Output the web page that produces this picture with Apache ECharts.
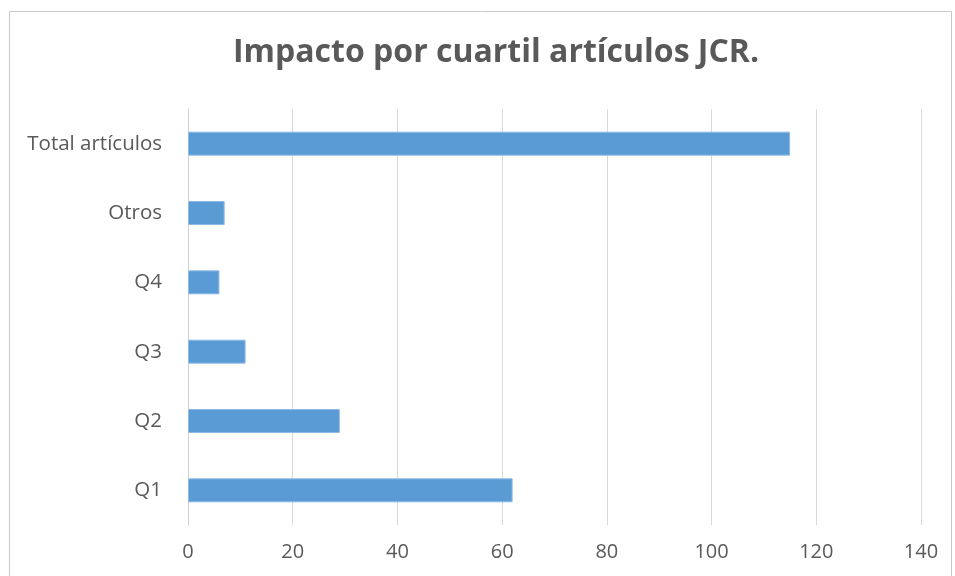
<!DOCTYPE html>
<html>
<head>
<meta charset="utf-8">
<script src="https://cdn.jsdelivr.net/npm/echarts@6/dist/echarts.min.js"></script>
<style>
html,body{margin:0;padding:0;background:#fff;}
#chart{width:955px;height:576px;}
</style>
</head>
<body>
<div id="chart"></div>
<script>
const titleText = "Impacto por cuartil artículos JCR.";
const categories = ["Q1", "Q2", "Q3", "Q4", "Otros", "Total artículos"];
const values = [62, 29, 11, 6, 7, 115];
const xTicks = [0, 20, 40, 60, 80, 100, 120, 140];

const chart = echarts.init(document.getElementById('chart'), null, {renderer: 'canvas'});
chart.setOption({
  backgroundColor: '#ffffff',
  animation: false,
  graphic: [{
    type: 'rect',
    shape: {x: 9.5, y: 11.5, width: 942, height: 600},
    style: {fill: 'none', stroke: '#c8c8c8', lineWidth: 1},
    silent: true
  }],
  title: {
    text: titleText,
    left: 233,
    top: 37,
    padding: 0,
    textStyle: {fontFamily: 'Open Sans', fontWeight: 'bold', fontSize: 32, color: '#595959'}
  },
  grid: {left: 188, right: 34, top: 109, bottom: 51, containLabel: false},
  xAxis: {
    type: 'value',
    min: xTicks[0],
    max: xTicks[xTicks.length - 1],
    interval: 20,
    axisLine: {show: false},
    axisTick: {show: false},
    splitLine: {show: true, lineStyle: {color: '#d9d9d9', width: 1}},
    axisLabel: {color: '#595959', fontFamily: 'Open Sans', fontSize: 20, margin: 17}
  },
  yAxis: {
    type: 'category',
    data: categories,
    axisLine: {show: true, lineStyle: {color: '#d0d0d0', width: 1}},
    axisTick: {show: false},
    axisLabel: {color: '#595959', fontFamily: 'Open Sans', fontSize: 20.5, margin: 26}
  },
  series: [{
    type: 'bar',
    data: values,
    barWidth: 24,
    itemStyle: {color: '#5b9bd5', borderColor: '#8dbbe6', borderWidth: 1}
  }]
});
</script>
</body>
</html>
